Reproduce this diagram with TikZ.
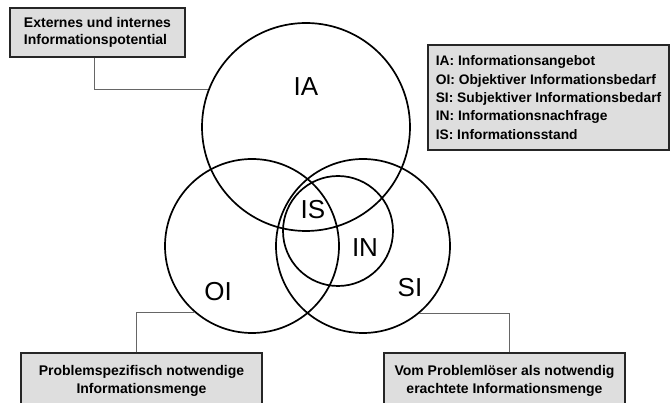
\documentclass[tikz,border=0pt]{standalone}
\usepackage{fontspec}
\setmainfont{Liberation Sans}
\begin{document}
\begin{tikzpicture}[x=1pt,y=-1pt,
  circ/.style={draw=black, line width=1.7pt, circle, inner sep=0pt},
  infobox/.style={draw=black!85, line width=1.5pt, fill=black!13, rectangle},
  conn/.style={draw=black!60, line width=0.8pt},
  biglabel/.style={font=\fontsize{26}{30}\selectfont, inner sep=0pt},
  boxtext/.style={font=\bfseries\fontsize{14}{17.5}\selectfont}]
\useasboundingbox (0,0) rectangle (672,403);
\clip (0,0) rectangle (672,403);

% circles
\node[circ, minimum size=208pt] (IA) at (306,127) {};
\node[circ, minimum size=174pt] (OI) at (252,246) {};
\node[circ, minimum size=174pt] (SI) at (363,246) {};
\node[circ, minimum size=110pt] (IN) at (338,231) {};

% labels
\node[biglabel] (lIA) at (306,87) {IA};
\node[biglabel] (lIS) at (313,210) {IS};
\node[biglabel] (lIN) at (365,248) {IN};
\node[biglabel] (lSI) at (410,288) {SI};
\node[biglabel] (lOI) at (218,292) {OI};

% boxes
\node[infobox, boxtext, minimum width=175pt, minimum height=49pt, align=left] (b1) at (97.5,32.5)
  {Externes und internes\\Informationspotential};
\node[infobox, boxtext, minimum width=241pt, minimum height=56pt, align=center] (b2) at (141.5,381)
  {Problemspezifisch notwendige\\Informationsmenge};
\node[infobox, boxtext, minimum width=241pt, minimum height=56pt, align=center] (b3) at (504.5,381)
  {Vom Probleml\"oser als notwendig\\erachtete Informationsmenge};
\node[infobox, font=\bfseries\fontsize{13.8}{18.3}\selectfont, minimum width=241pt, minimum height=105pt, align=left] (leg) at (548.5,97.5)
  {IA: Informationsangebot\\OI: Objektiver Informationsbedarf\\SI: Subjektiver Informationsbedarf\\IN: Informationsnachfrage\\IS: Informationsstand};

% connectors
\draw[conn] ([xshift=-3.5pt]b1.south) |- (IA.159);
\draw[conn] ([xshift=-5.5pt]b2.north) |- (OI.229);
\draw[conn] ([xshift=4.5pt]b3.north) |- (SI.310);
\end{tikzpicture}
\end{document}
